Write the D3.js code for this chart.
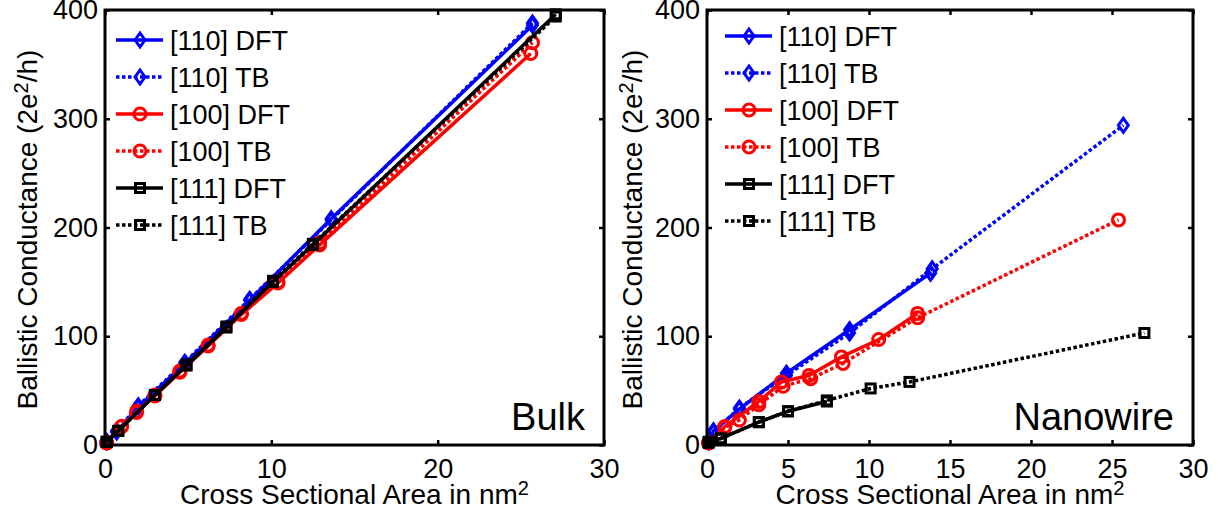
<!DOCTYPE html>
<html>
<head>
<meta charset="utf-8">
<script src="https://cdn.jsdelivr.net/npm/d3@7"></script>
<style>
body { margin: 0; background: #fff; }
svg text { font-family: "Liberation Sans", Arial, Helvetica, sans-serif; fill: #000; }
</style>
</head>
<body>
<svg width="1223" height="517"></svg>
<script>

// ---- data (area in nm^2, conductance in 2e^2/h) ----
var seriesNames = ["[110] DFT", "[110] TB", "[100] DFT", "[100] TB", "[111] DFT", "[111] TB"];

// Bulk panel
var bulk110DftX = [0.1, 0.7, 2.0, 4.8, 8.7, 13.6, 25.7];
var bulk110DftY = [3, 12, 35, 75, 133, 208, 386];
var bulk110TbX  = [0.1, 0.7, 2.0, 4.8, 8.7, 13.6, 25.7];
var bulk110TbY  = [3, 13, 36, 76, 134, 207, 388];
var bulk100DftX = [0.1, 1.0, 1.9, 3.0, 4.5, 6.2, 8.2, 10.4, 12.9, 25.6];
var bulk100DftY = [2, 17, 30, 45, 67, 91, 120, 149, 184, 360];
var bulk100TbX  = [0.1, 1.0, 1.9, 3.0, 4.5, 6.2, 8.2, 10.4, 12.9, 25.7];
var bulk100TbY  = [2, 17, 31, 46, 68, 92, 121, 150, 186, 370];
var bulk111DftX = [0.1, 0.8, 3.0, 4.9, 7.3, 10.1, 12.5, 27.1];
var bulk111DftY = [3, 13, 46, 73, 108, 150, 184, 396];
var bulk111TbX  = [0.1, 0.8, 3.0, 4.9, 7.3, 10.1, 12.5, 27.1];
var bulk111TbY  = [3, 13, 46, 74, 109, 151, 185, 394];

// Nanowire panel
var wire110DftX = [0.1, 0.4, 2.0, 4.9, 8.8, 13.8];
var wire110DftY = [3, 13, 33, 66, 106, 158];
var wire110TbX  = [0.1, 0.4, 2.0, 4.9, 8.8, 13.9, 25.7];
var wire110TbY  = [3, 12, 34, 64, 103, 162, 294];
var wire100DftX = [0.1, 1.1, 3.2, 4.6, 6.3, 8.3, 10.6, 13.0];
var wire100DftY = [2, 17, 40, 58, 64, 81, 97, 121];
var wire100TbX  = [0.1, 1.1, 2.0, 3.2, 4.7, 6.4, 8.4, 13.0, 25.4];
var wire100TbY  = [2, 16, 23, 37, 54, 61, 75, 117, 207];
var wire111DftX = [0.1, 0.85, 3.2, 5.0, 7.4];
var wire111DftY = [3, 6, 21, 31, 40];
var wire111TbX  = [0.1, 0.85, 3.2, 5.0, 7.4, 10.1, 12.5, 27.0];
var wire111TbY  = [2, 6, 21, 31, 41, 52, 58, 103];

var bulkXTicks = [0, 10, 20, 30];
var wireXTicks = [0, 5, 10, 15, 20, 25, 30];
var yTicks = [0, 100, 200, 300, 400];

var seriesColor = ["#0000ff", "#0000ff", "#ff0000", "#ff0000", "#000000", "#000000"];
var seriesDash  = [null, "3.5,2.5", null, "3.5,2.5", null, "3.5,2.5"];
var seriesMark  = ["diamond", "diamond", "circle", "circle", "square", "square"];

function zipXY(xs, ys) {
    return xs.map(function(x, i) { return [x, ys[i]]; });
}

var panels = [
    {
        left: 105, right: 604, top: 10, bottom: 445,
        xTicks: bulkXTicks, tag: "Bulk",
        series: [
            zipXY(bulk110DftX, bulk110DftY), zipXY(bulk110TbX, bulk110TbY),
            zipXY(bulk100DftX, bulk100DftY), zipXY(bulk100TbX, bulk100TbY),
            zipXY(bulk111DftX, bulk111DftY), zipXY(bulk111TbX, bulk111TbY)
        ],
        legendX: 116, legendY: 40, ylabX: 37
    },
    {
        left: 707, right: 1193, top: 10, bottom: 445,
        xTicks: wireXTicks, tag: "Nanowire",
        series: [
            zipXY(wire110DftX, wire110DftY), zipXY(wire110TbX, wire110TbY),
            zipXY(wire100DftX, wire100DftY), zipXY(wire100TbX, wire100TbY),
            zipXY(wire111DftX, wire111DftY), zipXY(wire111TbX, wire111TbY)
        ],
        legendX: 725, legendY: 36, ylabX: 642
    }
];

var svg = d3.select("svg");

function drawMarker(sel, kind, color) {
    if (kind === "diamond") {
        sel.append("path").attr("d", "M0,-7L5,0L0,7L-5,0Z");
    } else if (kind === "circle") {
        sel.append("circle").attr("r", 6);
    } else {
        sel.append("rect").attr("x", -4.5).attr("y", -4.5).attr("width", 9).attr("height", 9);
    }
    sel.selectAll("path,circle,rect")
        .style("fill", "none")
        .style("stroke", color)
        .style("stroke-width", 3);
}

panels.forEach(function(p) {
    var x = d3.scaleLinear().domain([0, 30]).range([p.left, p.right]);
    var y = d3.scaleLinear().domain([0, 400]).range([p.bottom, p.top]);
    var g = svg.append("g");

    // axes, MATLAB style ticks pointing inward
    var gx = g.append("g").attr("transform", "translate(0," + p.bottom + ")")
        .call(d3.axisBottom(x).tickValues(p.xTicks).tickSize(-5).tickPadding(14));
    var gy = g.append("g").attr("transform", "translate(" + p.left + ",0)")
        .call(d3.axisLeft(y).tickValues(yTicks).tickSize(-5).tickPadding(7));
    var gt = g.append("g").attr("transform", "translate(0," + p.top + ")")
        .call(d3.axisTop(x).tickValues(p.xTicks).tickSize(-5).tickFormat(""));
    var gr = g.append("g").attr("transform", "translate(" + p.right + ",0)")
        .call(d3.axisRight(y).tickValues(yTicks).tickSize(-5).tickFormat(""));

    [gx, gy, gt, gr].forEach(function(a) {
        a.select(".domain").remove();
        a.selectAll(".tick line").style("stroke", "#000").style("stroke-width", 2.5);
        a.selectAll(".tick text")
            .style("font-size", "27px")
            .style("font-family", "'Liberation Sans', Arial, sans-serif")
            .style("fill", "#000");
    });

    // data lines + markers
    var line = d3.line()
        .x(function(d) { return x(d[0]); })
        .y(function(d) { return y(d[1]); });

    p.series.forEach(function(pts, i) {
        g.append("path")
            .datum(pts)
            .attr("d", line)
            .style("fill", "none")
            .style("stroke", seriesColor[i])
            .style("stroke-width", 3.5)
            .style("stroke-dasharray", seriesDash[i]);
        g.selectAll(".m" + i)
            .data(pts)
            .enter()
            .append("g")
            .attr("class", "m" + i)
            .attr("transform", function(d) { return "translate(" + x(d[0]) + "," + y(d[1]) + ")"; })
            .each(function() { drawMarker(d3.select(this), seriesMark[i], seriesColor[i]); });
    });

    // box
    g.append("rect")
        .attr("x", p.left).attr("y", p.top)
        .attr("width", p.right - p.left).attr("height", p.bottom - p.top)
        .style("fill", "none").style("stroke", "#000").style("stroke-width", 3);

    // legend
    seriesNames.forEach(function(name, i) {
        var ly = p.legendY + i * 37;
        var lg = g.append("g");
        lg.append("line")
            .attr("x1", p.legendX).attr("x2", p.legendX + 47)
            .attr("y1", ly).attr("y2", ly)
            .style("stroke", seriesColor[i])
            .style("stroke-width", 3.5)
            .style("stroke-dasharray", seriesDash[i]);
        var mk = lg.append("g").attr("transform", "translate(" + (p.legendX + 24) + "," + ly + ")");
        drawMarker(mk, seriesMark[i], seriesColor[i]);
        lg.append("text")
            .attr("x", p.legendX + 54).attr("y", ly)
            .attr("dy", "0.36em")
            .style("font-size", "27px")
            .text(name);
    });

    // panel tag
    g.append("text")
        .attr("x", p.right - 19).attr("y", 430)
        .attr("text-anchor", "end")
        .style("font-size", "38px")
        .text(p.tag);

    // axis labels
    var xl = g.append("text")
        .attr("x", (p.left + p.right) / 2).attr("y", 504)
        .attr("text-anchor", "middle")
        .style("font-size", "28px");
    xl.append("tspan").text("Cross Sectional Area in nm");
    xl.append("tspan").attr("dy", -9).style("font-size", "20px").text("2");

    var yl = g.append("text")
        .attr("transform", "translate(" + p.ylabX + "," + ((p.top + p.bottom) / 2 + 2) + ") rotate(-90)")
        .attr("text-anchor", "middle")
        .style("font-size", "28px");
    yl.append("tspan").text("Ballistic Conductance (2e");
    yl.append("tspan").attr("dy", -9).style("font-size", "20px").text("2");
    yl.append("tspan").attr("dy", 9).text("/h)");
});

</script>
</body>
</html>
